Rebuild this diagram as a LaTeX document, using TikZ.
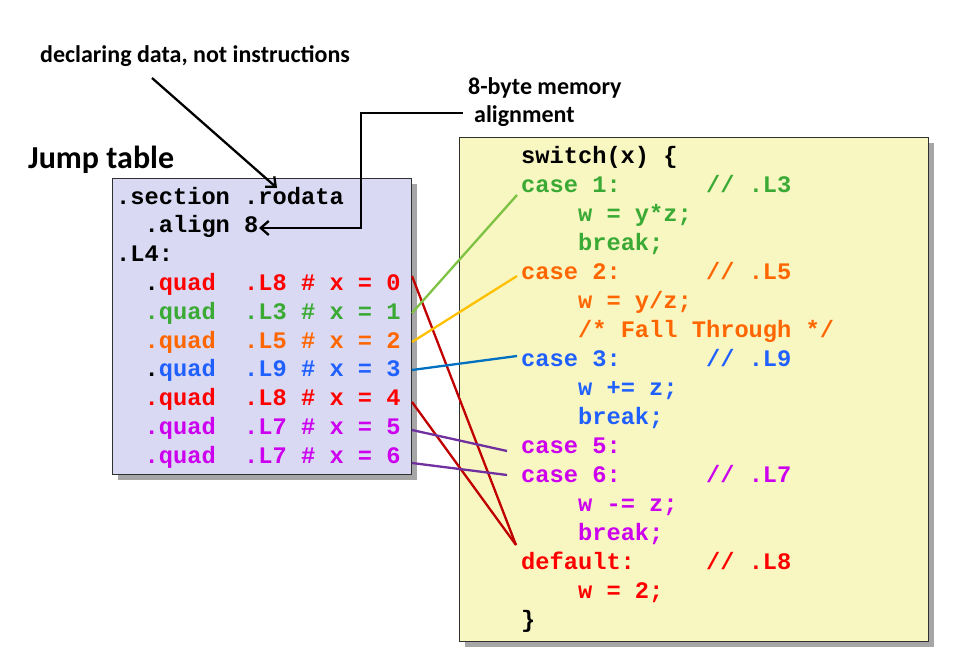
\documentclass[tikz,border=0pt]{standalone}
\usepackage{fontspec}
\setmainfont{Carlito}
\setmonofont{Liberation Mono}
\usetikzlibrary{arrows.meta}
\definecolor{cred}{HTML}{FF0000}
\definecolor{cgreen}{HTML}{3AAA35}
\definecolor{corange}{HTML}{FF6600}
\definecolor{cblue}{HTML}{2060FF}
\definecolor{cmag}{HTML}{CC00EE}
\definecolor{lred}{HTML}{C00000}
\definecolor{lgreen}{HTML}{7DC242}
\definecolor{lyellow}{HTML}{FFC000}
\definecolor{lblue}{HTML}{0070C0}
\definecolor{lpurple}{HTML}{7030A0}
\definecolor{leftfill}{HTML}{D9D9F3}
\definecolor{rightfill}{HTML}{F8F6C1}
\definecolor{shadowgray}{HTML}{A6A6A6}
\definecolor{boxline}{HTML}{303030}
\begin{document}
\begin{tikzpicture}[x=1pt,y=-1pt,
  code/.style={anchor=base west,inner sep=0pt,font=\fontsize{23.7}{29}\selectfont\ttfamily\bfseries},
  lbl/.style={anchor=base west,inner sep=0pt,font=\fontsize{24}{28}\selectfont\bfseries},
  panel/.style={draw=boxline,line width=1.3pt,anchor=north west,inner sep=0pt},
  shade/.style={fill=shadowgray,anchor=north west,inner sep=0pt},
  link/.style={line width=2.3pt},
  callout/.style={line width=2.3pt,-{Straight Barb[length=8pt,width=14pt]}}]
\useasboundingbox (0,0) rectangle (955,666);
% panels
\node[shade,minimum width=299pt,minimum height=296pt] (jtshadow) at (118,184) {};
\node[panel,fill=leftfill,minimum width=299pt,minimum height=296pt] (jt) at (112,178) {};
\node[shade,minimum width=469pt,minimum height=504pt] (swshadow) at (465,143) {};
\node[panel,fill=rightfill,minimum width=469pt,minimum height=504pt] (sw) at (459,137) {};
% labels
\node[lbl] (decl) at (40,63) {declaring data, not instructions};
\node[lbl,font=\fontsize{32}{37}\selectfont\bfseries] (jump) at (28,168) {Jump table};
\node[lbl] (mem1) at (468,95) {8-byte memory};
\node[lbl] (mem2) at (474,122) {alignment};
% left code
\node[code] (t0) at (116,204.0) {.section~.rodata};
\node[code] (t1) at (116,232.8) {~~.align~8};
\node[code] (t2) at (116,261.6) {.L4:};
\node[code] (t3) at (116,290.4) {~~.{\color{cred}quad~~.L8~\#~x~=~0}};
\node[code,cgreen] (t4) at (116,319.2) {~~.quad~~.L3~\#~x~=~1};
\node[code,corange] (t5) at (116,348.0) {~~.quad~~.L5~\#~x~=~2};
\node[code] (t6) at (116,376.8) {~~.{\color{cblue}quad~~.L9~\#~x~=~3}};
\node[code,cred] (t7) at (116,405.6) {~~.quad~~.L8~\#~x~=~4};
\node[code,cmag] (t8) at (116,434.4) {~~.quad~~.L7~\#~x~=~5};
\node[code,cmag] (t9) at (116,463.2) {~~.quad~~.L7~\#~x~=~6};
% right code
\node[code] (r0) at (521,163) {switch(x)~\{};
\node[code,cgreen] (r1) at (521,192) {case~1:~~~~~~//~.L3};
\node[code,cgreen] (r2) at (521,221) {~~~~w~=~y*z;};
\node[code,cgreen] (r3) at (521,250) {~~~~break;};
\node[code,corange] (r4) at (521,279) {case~2:~~~~~~//~.L5};
\node[code,corange] (r5) at (521,308) {~~~~w~=~y/z;};
\node[code,corange] (r6) at (521,337) {~~~~/*~Fall~Through~*/};
\node[code,cblue] (r7) at (521,366) {case~3:~~~~~~//~.L9};
\node[code,cblue] (r8) at (521,395) {~~~~w~+=~z;};
\node[code,cblue] (r9) at (521,424) {~~~~break;};
\node[code,cmag] (r10) at (521,453) {case~5:};
\node[code,cmag] (r11) at (521,482) {case~6:~~~~~~//~.L7};
\node[code,cmag] (r12) at (521,511) {~~~~w~-=~z;};
\node[code,cmag] (r13) at (521,540) {~~~~break;};
\node[code,cred] (r14) at (521,569) {default:~~~~~//~.L8};
\node[code,cred] (r15) at (521,598) {~~~~w~=~2;};
\node[code] (r16) at (521,627) {\}};
% connector endpoints
\coordinate (s0) at (412,276);
\coordinate (s1) at (412,313);
\coordinate (s2) at (412,342);
\coordinate (s3) at (412,370);
\coordinate (s4) at (412,402);
\coordinate (s5) at (412,430);
\coordinate (s6) at (412,463);
\coordinate (e1) at (517,195);
\coordinate (e2) at (517,276);
\coordinate (e3) at (517,356);
\coordinate (e5) at (507,451);
\coordinate (e6) at (507,475);
\coordinate (ed) at (516,545);
\draw[link,lred] (s0) -- (ed);
\draw[link,lred] (s4) -- (ed);
\draw[link,lgreen] (s1) -- (e1);
\draw[link,lyellow] (s2) -- (e2);
\draw[link,lblue] (s3) -- (e3);
\draw[link,lpurple] (s5) -- (e5);
\draw[link,lpurple] (s6) -- (e6);
% callouts
\coordinate (a1s) at (152,78);
\coordinate (a1e) at (277,188);
\draw[callout] (a1s) -- (a1e);
\coordinate (a2s) at (463,113);
\coordinate (a2e) at (259,228);
\draw[callout] (a2s) -- (361,113) -- (361,228) -- (a2e);
\end{tikzpicture}
\end{document}
